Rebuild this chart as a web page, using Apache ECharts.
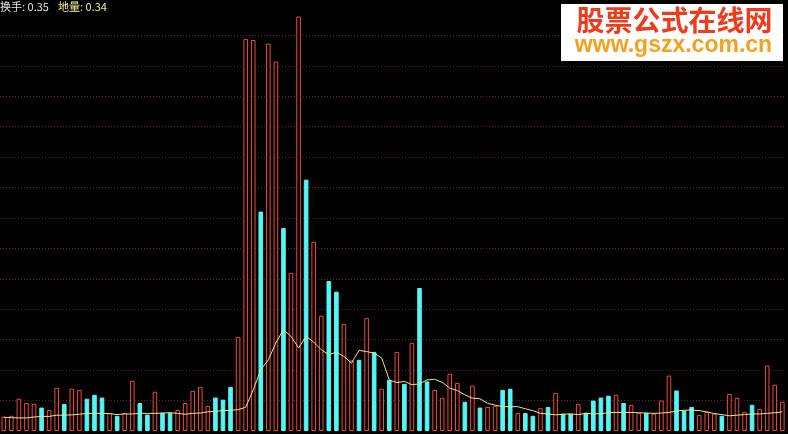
<!DOCTYPE html>
<html>
<head>
<meta charset="utf-8">
<script src="https://cdn.jsdelivr.net/npm/echarts@6/dist/echarts.min.js"></script>
<style>
  html, body { margin: 0; padding: 0; background: #000; }
  #chart { width: 788px; height: 434px; }
</style>
</head>
<body>
<div id="chart"></div>
<script>
// Turnover (换手) per bar, in grid-line units
const turnover = [
  0.47, 0.50, 1.06, 0.92, 0.89, 0.77, 0.69, 1.42, 0.89, 1.39,
  1.35, 1.06, 1.19, 1.10, 0.59, 0.50, 0.59, 1.65, 0.92, 0.54,
  1.29, 0.60, 0.60, 0.69, 0.92, 1.32, 1.45, 0.82, 1.10, 1.03,
  1.45, 3.09, 12.88, 12.85, 7.21, 12.73, 12.14, 6.67, 5.20, 13.62,
  8.26, 6.22, 3.79, 4.93, 4.58, 3.52, 2.32, 2.34, 3.71, 2.60,
  1.39, 1.68, 2.60, 1.55, 2.90, 4.70, 1.63, 1.35, 1.09, 1.88,
  1.58, 0.96, 1.49, 0.77, 0.79, 0.82, 1.35, 1.39, 0.59, 0.59,
  0.50, 0.75, 0.79, 1.25, 0.57, 0.57, 0.89, 0.60, 1.00, 1.10,
  1.16, 1.19, 0.92, 0.86, 0.60, 0.60, 0.57, 1.00, 1.82, 1.33,
  0.67, 0.79, 0.53, 0.63, 0.57, 0.50, 1.22, 1.09, 0.63, 0.86,
  0.73, 2.15, 1.52, 0.96
];
// Bar direction: u = up (hollow red), d = down (solid cyan)
const direction = [
  'u','u','u','u','u','d','u','u','d','u',
  'u','d','d','d','u','d','u','u','d','d',
  'u','d','d','u','u','u','u','u','d','d',
  'd','u','u','u','d','u','u','d','u','u',
  'd','u','u','d','d','u','u','d','u','d',
  'u','d','u','d','u','d','d','u','u','u',
  'u','d','u','d','u','u','d','d','u','d',
  'd','u','d','u','d','d','u','d','d','d',
  'd','u','d','u','u','d','u','u','u','d',
  'd','d','u','u','u','d','u','u','u','d',
  'u','u','u','u'
];
// Average line (yellow)
const avgLine = [
  0.45, 0.44, 0.43, 0.43, 0.46, 0.48, 0.48, 0.52, 0.52, 0.53,
  0.55, 0.58, 0.58, 0.58, 0.57, 0.54, 0.56, 0.56, 0.58, 0.58,
  0.58, 0.59, 0.60, 0.58, 0.55, 0.58, 0.59, 0.63, 0.65, 0.67,
  0.68, 0.70, 0.78, 1.35, 2.01, 2.34, 2.90, 3.33, 3.11, 2.73,
  3.11, 2.92, 2.67, 2.51, 2.59, 2.45, 2.23, 2.65, 2.61, 2.56,
  2.40, 1.68, 1.59, 1.63, 1.52, 1.55, 1.68, 1.70, 1.60, 1.41,
  1.33, 1.19, 1.08, 1.06, 0.91, 0.85, 0.80, 0.80, 0.80, 0.73,
  0.67, 0.58, 0.56, 0.53, 0.55, 0.56, 0.54, 0.58, 0.56, 0.57,
  0.60, 0.61, 0.61, 0.61, 0.60, 0.59, 0.58, 0.59, 0.61, 0.66,
  0.68, 0.69, 0.67, 0.63, 0.57, 0.54, 0.50, 0.52, 0.54, 0.56,
  0.56, 0.58, 0.60, 0.63
];
const categories = turnover.map((_, i) => 'D' + (i + 1));
const headerLabels = ['换手: 0.35', '地量: 0.34'];
const watermark = ['股票公式在线网', 'www.gszx.com.cn'];

const UP = '#ee4a3a', DOWN = '#55f5f5';
const barData = turnover.map((v, i) => ({
  value: v,
  itemStyle: direction[i] === 'u'
    ? { color: '#000', borderColor: UP, borderWidth: 1 }
    : { color: DOWN, borderColor: DOWN, borderWidth: 1 }
}));

const chart = echarts.init(document.getElementById('chart'), null, { renderer: 'canvas' });
chart.setOption({
  backgroundColor: '#000',
  animation: false,
  grid: { left: -2.9, right: 1.9, top: 5, bottom: 3, containLabel: false },
  xAxis: {
    type: 'category', data: categories, boundaryGap: true,
    axisLine: { show: false }, axisTick: { show: false }, axisLabel: { show: false },
    splitLine: { show: false }
  },
  yAxis: {
    type: 'value', min: 0, max: 14, interval: 1,
    axisLine: { show: false }, axisTick: { show: false }, axisLabel: { show: false },
    splitLine: { show: true, showMinLine: false, showMaxLine: false,
      lineStyle: { color: '#6a2222', type: [1, 2], width: 1 } }
  },
  series: [
    { type: 'bar', data: barData, barWidth: 4.6, z: 2 },
    { type: 'line', data: avgLine, symbol: 'none', smooth: false, z: 3,
      lineStyle: { color: '#f3e38a', width: 1 } }
  ],
  graphic: [
    { type: 'text', left: 0, top: 1, z: 10,
      style: { text: headerLabels[0], fill: '#e6e6e6', font: '11px "Noto Sans CJK SC", sans-serif' } },
    { type: 'text', left: 58, top: 1, z: 10,
      style: { text: headerLabels[1], fill: '#f2ef8c', font: '11px "Noto Sans CJK SC", sans-serif' } },
    { type: 'rect', shape: { x: 561, y: 4, width: 222, height: 57 }, z: 10,
      style: { fill: '#ffffff' } },
    { type: 'text', x: 674.5, y: 20, z: 11,
      style: { text: watermark[0], fill: '#ef3b1c', align: 'center', verticalAlign: 'middle',
        font: 'bold 28px "Noto Sans CJK SC", sans-serif' } },
    { type: 'text', x: 673.5, y: 46, z: 11,
      style: { text: watermark[1], fill: '#f5a11c', align: 'center', verticalAlign: 'middle',
        font: 'bold 23px "Liberation Sans", Arial, sans-serif' } }
  ]
});
</script>
</body>
</html>
